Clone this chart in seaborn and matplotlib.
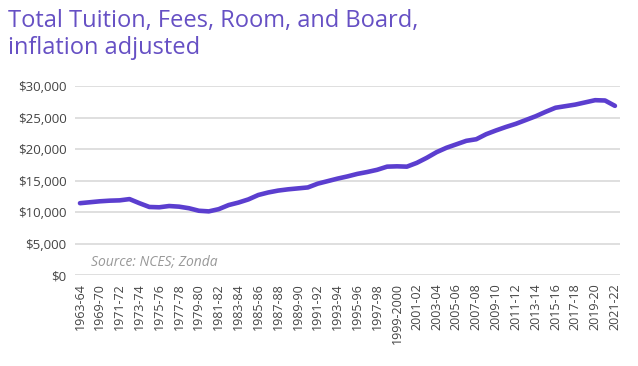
import matplotlib
matplotlib.use("Agg")
import matplotlib.pyplot as plt
import seaborn as sns
import pandas as pd

years = ["1963-64", "1968-69", "1969-70", "1970-71", "1971-72", "1972-73", "1973-74",
         "1974-75", "1975-76", "1976-77", "1977-78", "1978-79", "1979-80", "1980-81",
         "1981-82", "1982-83", "1983-84", "1984-85", "1985-86", "1986-87", "1987-88",
         "1988-89", "1989-90", "1990-91", "1991-92", "1992-93", "1993-94", "1994-95",
         "1995-96", "1996-97", "1997-98", "1998-99", "1999-2000", "2000-01", "2001-02",
         "2002-03", "2003-04", "2004-05", "2005-06", "2006-07", "2007-08", "2008-09",
         "2009-10", "2010-11", "2011-12", "2012-13", "2013-14", "2014-15", "2015-16",
         "2016-17", "2017-18", "2018-19", "2019-20", "2020-21", "2021-22"]
cost = [11400, 11550, 11700, 11800, 11850, 12050, 11400,
        10800, 10750, 10950, 10850, 10600, 10200, 10100,
        10450, 11100, 11500, 12000, 12700, 13100, 13400,
        13600, 13750, 13900, 14500, 14900, 15300, 15650,
        16050, 16350, 16700, 17200, 17250, 17200, 17800,
        18600, 19500, 20200, 20750, 21300, 21550, 22350,
        22950, 23500, 24000, 24600, 25200, 25900, 26550,
        26800, 27050, 27400, 27750, 27700, 26850]
yticks = [0, 5000, 10000, 15000, 20000, 25000, 30000]
title_lines = ["Total Tuition, Fees, Room, and Board,", "inflation adjusted"]

df = pd.DataFrame({"year": years, "cost": cost})
df["pos"] = range(len(df))

sns.set_theme(style="white")
plt.rcParams["font.family"] = ["Open Sans", "DejaVu Sans"]

fig = plt.figure(figsize=(6.38, 3.66), dpi=100)
ax = fig.add_axes([0.1176, 0.2486, 0.854, 0.5164])

sns.lineplot(data=df, x="pos", y="cost", ax=ax, color="#5B3ECF", linewidth=3.3)

ax.set_xlim(-0.5, len(years) - 0.5)
ax.set_ylim(0, 30000)
ax.set_yticks(yticks)
ax.set_yticklabels([f"${v:,}" for v in yticks], fontsize=9.5, color="#444444")
tick_pos = list(range(0, len(years), 2))
ax.set_xticks(tick_pos)
ax.set_xticklabels([years[i] for i in tick_pos], rotation=90, fontsize=9, color="#444444")
ax.tick_params(axis="both", length=0, pad=6)
ax.yaxis.grid(True, color="#d9d9d9", linewidth=1.2)
ax.xaxis.grid(False)
for s in ax.spines.values():
    s.set_visible(False)
ax.set_xlabel("")
ax.set_ylabel("")
for l in ax.get_lines():
    l.set_clip_on(False)

ax.text(0.029, 0.069, "Source: NCES; Zonda", transform=ax.transAxes, fontsize=10,
        style="italic", color="#999999", va="center", ha="left")

fig.text(0.0125, 1 - 27 / 366, title_lines[0], fontsize=17, color="#6650C4",
         ha="left", va="baseline")
fig.text(0.0125, 1 - 54 / 366, title_lines[1], fontsize=17, color="#6650C4",
         ha="left", va="baseline")

fig.savefig("out.png", dpi=100)
